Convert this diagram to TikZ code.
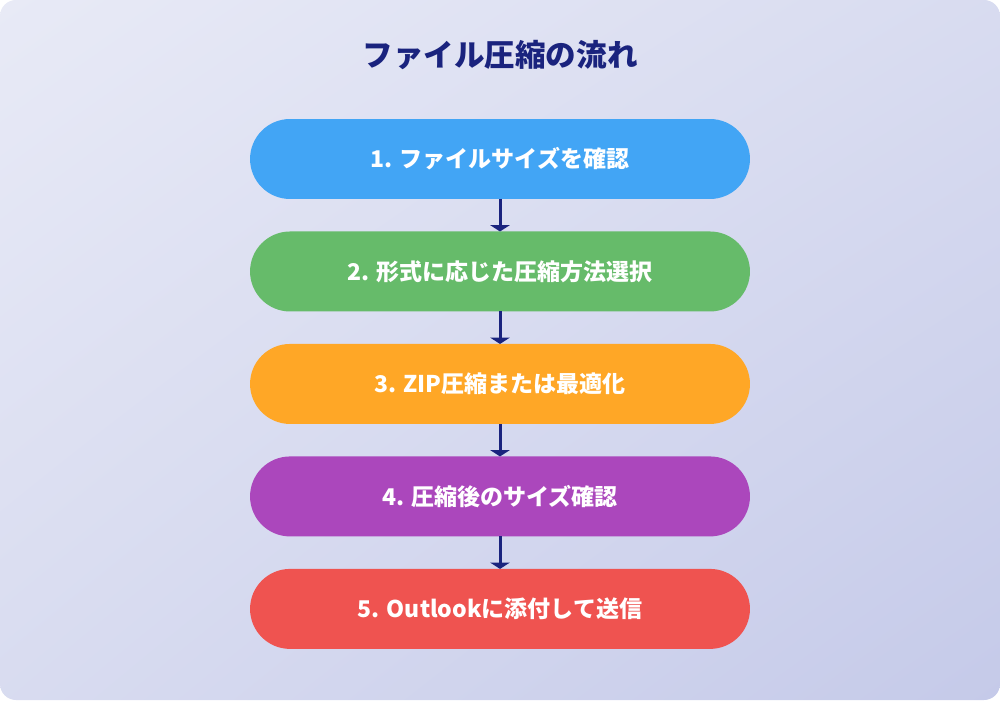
\documentclass[tikz,border=0pt]{standalone}
\usepackage{fontspec}
\setmainfont{Noto Sans CJK JP}
\usepackage{tikz}
\usetikzlibrary{arrows.meta,positioning,shadings}
\definecolor{navy}{HTML}{1A237E}
\definecolor{stepblue}{HTML}{42A5F5}
\definecolor{stepgreen}{HTML}{66BB6A}
\definecolor{steporange}{HTML}{FFA726}
\definecolor{steppurple}{HTML}{AB47BC}
\definecolor{stepred}{HTML}{EF5350}
\definecolor{bgtl}{HTML}{E8EAF6}
\definecolor{bgbr}{HTML}{C5CAE9}
\tikzset{
  stepbox/.style={rounded corners=0.8cm, minimum width=10cm, minimum height=1.6cm,
    text=white, font=\fontsize{13.1}{16}\selectfont\bfseries, inner sep=0pt, outer sep=0pt},
  flow/.style={navy, line width=1.7pt, -{Triangle[width=11pt,length=3.6pt]}}
}
\begin{document}
\begin{tikzpicture}[x=0.02cm,y=0.02cm]
  % Configurable parameters
  \def\gap{0.65cm}
  %
  % Background
  \useasboundingbox (0,0) rectangle (1000,700);
  \shade[rounded corners=0.32cm, upper left=bgtl, lower right=bgbr,
    upper right=bgtl!55!bgbr, lower left=bgtl!55!bgbr] (0,0) rectangle (1000,700);
  %
  % Title
  \node[navy, font=\fontsize{17.4}{20}\selectfont\bfseries] (title) at (500,645) {ファイル圧縮の流れ};
  %
  % Steps
  \node[stepbox, fill=stepblue] (check) at (500,541) {1. ファイルサイズを確認};
  \node[stepbox, fill=stepgreen, below=\gap of check] (method) {2. 形式に応じた圧縮方法選択};
  \node[stepbox, fill=steporange, below=\gap of method] (zip) {3. ZIP圧縮または最適化};
  \node[stepbox, fill=steppurple, below=\gap of zip] (recheck) {4. 圧縮後のサイズ確認};
  \node[stepbox, fill=stepred, below=\gap of recheck] (send) {5. Outlookに添付して送信};
  %
  % Arrows
  \foreach \a/\b in {check/method, method/zip, zip/recheck, recheck/send}
    \draw[flow] (\a) -- (\b);
  %
\end{tikzpicture}
\end{document}
